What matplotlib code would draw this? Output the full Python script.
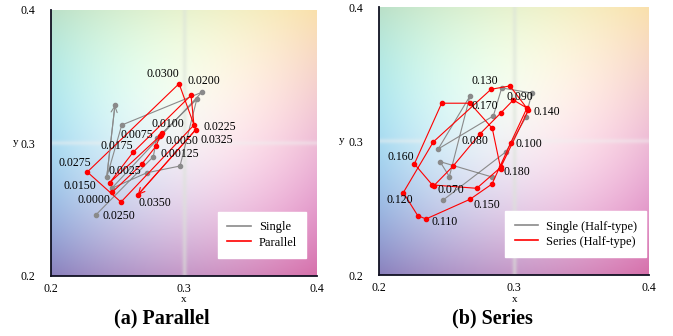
import numpy as np
import matplotlib
matplotlib.use("Agg")
import matplotlib.pyplot as plt
from matplotlib.lines import Line2D

plt.rcParams['font.family'] = ['Liberation Serif', 'DejaVu Serif']

# (a) Parallel: chromaticity trajectories
single_a_x = [0.2336, 0.2769, 0.2795, 0.3096, 0.2970, 0.2720, 0.2456, 0.3133, 0.2532, 0.2419, 0.2481]
single_a_y = [0.2458, 0.2897, 0.3035, 0.3328, 0.2827, 0.2776, 0.2659, 0.3381, 0.3135, 0.2742, 0.3286]

parallel_x = [0.2461, 0.2682, 0.2790, 0.2820, 0.2837, 0.2827, 0.2441, 0.2617, 0.3053, 0.3075,
              0.2526, 0.2273, 0.2963, 0.3088, 0.2652]
parallel_y = [0.2631, 0.2840, 0.2977, 0.3052, 0.3077, 0.3060, 0.2701, 0.2930, 0.3359, 0.3135,
              0.2556, 0.2782, 0.3446, 0.3100, 0.2609]
parallel_labels = ['0.0000', '0.0025', '0.0050', '0.0075', '0.0100', '0.00125', '0.0150', '0.0175',
                   '0.0200', '0.0225', '0.0250', '0.0275', '0.0300', '0.0325', '0.0350']

# (b) Series: chromaticity trajectories
single_b_x = [0.2476, 0.2941, 0.3089, 0.3131, 0.2909, 0.2847, 0.2439, 0.2674, 0.2521, 0.2452, 0.2835]
single_b_y = [0.2560, 0.2920, 0.3179, 0.3358, 0.3396, 0.3187, 0.2941, 0.3336, 0.2734, 0.2846, 0.2732]

series_x = [0.2407, 0.2550, 0.2748, 0.2902, 0.2995, 0.3096, 0.2976, 0.2837, 0.2674, 0.2348,
            0.2287, 0.2180, 0.2402, 0.2830, 0.2970, 0.3106, 0.2902, 0.2724, 0.2395, 0.2262,
            0.2464, 0.2674, 0.2839, 0.2902]
series_y = [0.2667, 0.2814, 0.3053, 0.3209, 0.3306, 0.3246, 0.2987, 0.2679, 0.2565, 0.2418,
            0.2443, 0.2615, 0.2993, 0.3386, 0.3411, 0.3231, 0.2804, 0.2647, 0.2672, 0.2829,
            0.3282, 0.3282, 0.3095, 0.2791]
series_labels = ['0.070', '', '0.080', '', '0.090', '', '0.100', '', '', '0.110',
                 '', '0.120', '', '0.130', '', '0.140', '', '0.150', '', '0.160',
                 '', '0.170', '', '0.180']

# label offsets in pixels (layout only)
parallel_off = [(-18, -8), (-17, -7), (26, 5), (-23, 1), (6, 9), (19, -19), (-30, -3), (-16, 6),
                (13, 14), (26, -2), (-2, -14), (-12, 9), (-16, 10), (21, -10), (17, -8)]
series_off = {0: (17, -4), 2: (-5, -7), 4: (7, 3), 6: (18, -1), 9: (19, -3), 11: (-3, -7),
              13: (-6, 8), 15: (19, -2), 17: (10, -17), 19: (-14, 7), 21: (15, -3), 23: (16, -3)}

# background colours of the chromaticity chart (rows: y=0.2, 0.3, 0.4; cols: x=0.2, 0.3, 0.4)
bg_colors = [[(138, 128, 188), (196, 150, 198), (214, 112, 170)],
             [(168, 218, 240), (244, 240, 244), (238, 188, 214)],
             [(186, 224, 200), (232, 242, 206), (250, 224, 172)]]

GRAY = '#8a8a8a'
RED = '#ff0000'


def chart_background(ax):
    n = 300
    t = np.linspace(0, 1, n)
    basis = np.stack([2 * (t - 0.5) * (t - 1), -4 * t * (t - 1), 2 * t * (t - 0.5)])
    C = np.array(bg_colors) / 255.0
    img = np.einsum('bi,aj,bac->ijc', basis, basis, C)
    vals = 0.2 + 0.2 * t
    vband = np.exp(-((vals - 0.3005) / 0.0018) ** 2)[None, :, None]
    hband = np.exp(-((vals - 0.3000) / 0.0018) ** 2)[:, None, None]
    img = img * (1 - 0.55 * vband) + np.array([0.86, 0.89, 0.85]) * 0.55 * vband
    img = img * (1 - 0.45 * hband) + np.array([0.94, 0.94, 0.94]) * 0.45 * hband
    ax.imshow(np.clip(img, 0, 1), origin='lower', extent=(0.2, 0.4, 0.2, 0.4),
              aspect='auto', interpolation='bilinear', zorder=0)


def style_axes(ax):
    ax.set_xlim(0.2, 0.4)
    ax.set_ylim(0.2, 0.4)
    ax.set_xticks([0.2, 0.3, 0.4])
    ax.set_yticks([0.2, 0.3, 0.4])
    ax.set_xticklabels(['0.2', '0.3', '0.4'])
    ax.set_yticklabels(['0.2', '0.3', '0.4'])
    ax.tick_params(length=0, labelsize=8.5)
    ax.tick_params(axis='y', pad=11)
    ax.tick_params(axis='x', pad=5)
    for s in ['top', 'right']:
        ax.spines[s].set_visible(False)
    for s in ['left', 'bottom']:
        ax.spines[s].set_color('#111122')
        ax.spines[s].set_linewidth(1.3)


def trajectory(ax, x, y, color, arrow):
    ax.plot(x, y, '-o', color=color, lw=0.8, ms=3, zorder=3)
    if arrow:
        ax.annotate('', xy=(x[-1], y[-1]), xytext=(x[-2], y[-2]),
                    arrowprops=dict(arrowstyle='->', color=color, lw=0.8,
                                    shrinkA=0, shrinkB=0, mutation_scale=11), zorder=4)


def add_legend(ax, names, anchor):
    handles = [Line2D([], [], color=GRAY, lw=1.2), Line2D([], [], color=RED, lw=1.2)]
    ax.legend(handles, names, loc='lower right', bbox_to_anchor=anchor, borderaxespad=0,
              fontsize=9, fancybox=False, framealpha=1, edgecolor='white',
              handlelength=1.9, borderpad=0.75, labelspacing=0.25, handletextpad=0.6)


fig = plt.figure(figsize=(6.73, 3.36), dpi=100)
ax1 = fig.add_axes([51 / 673, 60 / 336, 266 / 673, 266 / 336])
ax2 = fig.add_axes([379 / 673, 61 / 336, 270 / 673, 268 / 336])

# panel (a)
chart_background(ax1)
style_axes(ax1)
trajectory(ax1, single_a_x, single_a_y, GRAY, True)
trajectory(ax1, parallel_x, parallel_y, RED, True)
for i, lab in enumerate(parallel_labels):
    ax1.annotate(lab, (parallel_x[i], parallel_y[i]), xytext=parallel_off[i],
                 textcoords='offset pixels', ha='center', va='center', fontsize=8.5, zorder=5)
add_legend(ax1, ['Single', 'Parallel'], (0.96, 0.068))

# panel (b)
chart_background(ax2)
style_axes(ax2)
trajectory(ax2, single_b_x, single_b_y, GRAY, False)
trajectory(ax2, series_x, series_y, RED, False)
for i, off in series_off.items():
    ax2.annotate(series_labels[i], (series_x[i], series_y[i]), xytext=off,
                 textcoords='offset pixels', ha='center', va='center', fontsize=8.5, zorder=5)
add_legend(ax2, ['Single (Half-type)', 'Series (Half-type)'], (0.99, 0.067))

# axis letters and panel titles
fig.text(184 / 673, 1 - 300 / 336, 'x', ha='center', va='center', fontsize=8)
fig.text(16 / 673, 1 - 142 / 336, 'y', ha='center', va='center', fontsize=8)
fig.text(515 / 673, 1 - 300 / 336, 'x', ha='center', va='center', fontsize=8)
fig.text(342 / 673, 1 - 140 / 336, 'y', ha='center', va='center', fontsize=8)
fig.text(162 / 673, 1 - 318 / 336, '(a) Parallel', ha='center', va='center',
         fontsize=14.5, fontweight='bold')
fig.text(492 / 673, 1 - 318 / 336, '(b) Series', ha='center', va='center',
         fontsize=14.5, fontweight='bold')

fig.savefig('out.png', dpi=100)
